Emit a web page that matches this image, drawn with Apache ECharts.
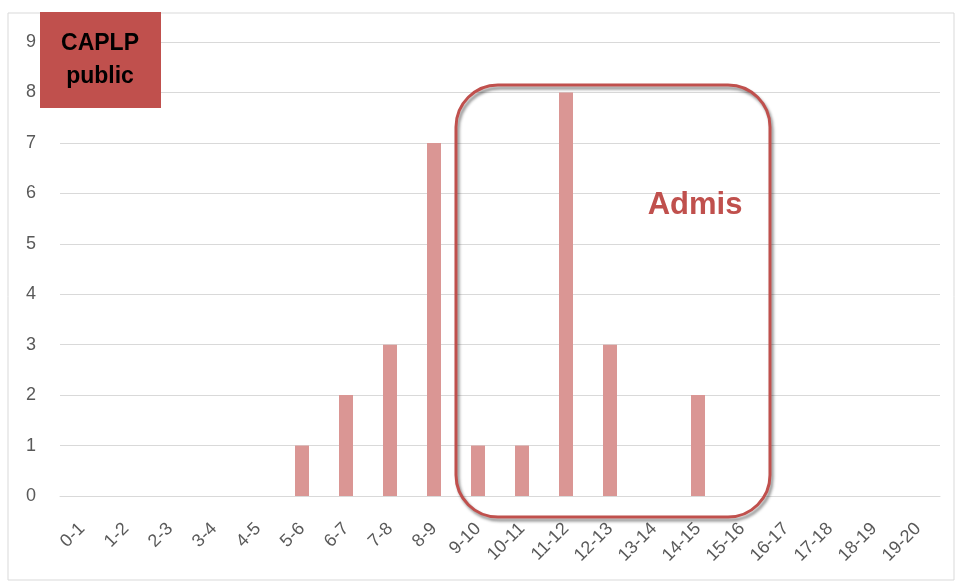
<!DOCTYPE html>
<html><head><meta charset="utf-8">
<script src="https://cdn.jsdelivr.net/npm/echarts@6/dist/echarts.min.js"></script>
<style>html,body{margin:0;padding:0;background:#fff}#c{width:957px;height:583px}</style>
</head><body><div id="c"></div>
<script>
const categories = ['0-1','1-2','2-3','3-4','4-5','5-6','6-7','7-8','8-9','9-10','10-11','11-12','12-13','13-14','14-15','15-16','16-17','17-18','18-19','19-20'];
const counts = [0,0,0,0,0,1,2,3,7,1,1,8,3,0,2,0,0,0,0,0];
const yTicks = [0,1,2,3,4,5,6,7,8,9];

const chart = echarts.init(document.getElementById('c'), null, {renderer:'canvas'});
const FONT = 'Liberation Sans';
chart.setOption({
  animation:false,
  backgroundColor:'#fff',
  grid:{left:60,right:17,top:42,bottom:87},
  xAxis:{type:'category',data:categories,
    axisLine:{lineStyle:{color:'#D9D9D9',width:1}},
    axisTick:{show:false},
    axisLabel:{rotate:45,color:'#595959',fontSize:18,fontFamily:FONT,margin:30,interval:0}},
  yAxis:{type:'value',min:yTicks[0],max:yTicks[yTicks.length-1],interval:1,
    axisLine:{show:false},axisTick:{show:false},
    splitLine:{lineStyle:{color:'#D9D9D9',width:1}},
    axisLabel:{color:'#595959',fontSize:18,fontFamily:FONT,margin:24}},
  series:[{type:'bar',data:counts,barWidth:14,itemStyle:{color:'#DA9694'}}],
  graphic:[
    {type:'rect',shape:{x:8,y:13,width:946,height:567},style:{fill:null,stroke:'#D9D9D9',lineWidth:1},z:-1},
    {type:'rect',shape:{x:40,y:12,width:121,height:96},style:{fill:'#C0504D'},z:10},
    {type:'text',x:100,y:44,style:{text:'CAPLP',font:'bold 23px "Liberation Sans"',fill:'#000',textAlign:'center',textVerticalAlign:'middle'},z:11},
    {type:'text',x:100,y:77,style:{text:'public',font:'bold 23px "Liberation Sans"',fill:'#000',textAlign:'center',textVerticalAlign:'middle'},z:11},
    {type:'rect',shape:{x:456,y:85,width:314,height:432,r:42},
      style:{fill:null,stroke:'#C0504D',lineWidth:3,shadowColor:'rgba(0,0,0,0.45)',shadowBlur:3,shadowOffsetX:2,shadowOffsetY:3},z:10},
    {type:'text',x:695,y:205,style:{text:'Admis',font:'bold 31px "Liberation Sans"',fill:'#C0504D',textAlign:'center',textVerticalAlign:'middle'},z:11}
  ]
});
</script></body></html>
